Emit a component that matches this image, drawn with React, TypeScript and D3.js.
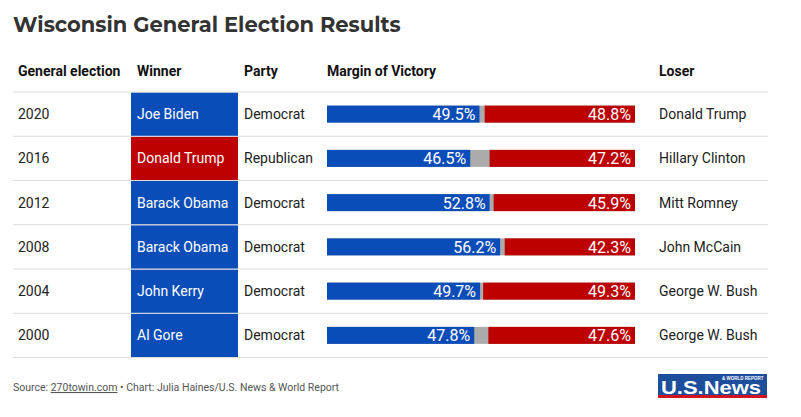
import React from "react";
import * as d3 from "d3";

const years = ["2020", "2016", "2012", "2008", "2004", "2000"];
const winners = ["Joe Biden", "Donald Trump", "Barack Obama", "Barack Obama", "John Kerry", "Al Gore"];
const parties = ["Democrat", "Republican", "Democrat", "Democrat", "Democrat", "Democrat"];
const demShare = [49.5, 46.5, 52.8, 56.2, 49.7, 47.8];
const repShare = [48.8, 47.2, 45.9, 42.3, 49.3, 47.6];
const losers = ["Donald Trump", "Hillary Clinton", "Mitt Romney", "John McCain", "George W. Bush", "George W. Bush"];
const headers = ["General election", "Winner", "Party", "Margin of Victory", "Loser"];

const BLUE = "#0b4db8";
const RED = "#bd0000";
const GRAY = "#ababab";

export default function App() {
  const W = 801, H = 417;
  const tableTop = 92, tableBottom = 357.5;
  const y = d3.scaleBand<string>().domain(years).range([tableTop, tableBottom]).padding(0);
  const x = d3.scaleLinear().domain([0, 100]).range([327, 635]);
  const colX = [18, 137, 244, 327, 659];
  const barH = 17;
  const font = "Roboto, 'Open Sans', sans-serif";

  return (
    <svg width={W} height={H} style={{ position: "absolute", left: 0, top: 0, background: "#fff" }}>
      <text x={13} y={32} fontFamily="Montserrat, 'Open Sans', sans-serif" fontWeight={700} fontSize={21} fill="#333333">
        Wisconsin General Election Results
      </text>
      {headers.map((h, i) => (
        <text key={h} x={colX[i]} y={76} fontFamily={font} fontWeight={700} fontSize={14} fill="#111">
          {h}
        </text>
      ))}
      {years.map((yr, i) => {
        const y0 = y(yr)!;
        const bh = y.bandwidth();
        const cy = y0 + bh / 2;
        const isDem = parties[i] === "Democrat";
        const d = demShare[i], r = repShare[i];
        const bx0 = x(0), bx1 = x(d), rx0 = x(100 - r), rx1 = x(100);
        return (
          <g key={yr}>
            <rect x={131} y={y0 + 0.5} width={107} height={bh - 0.5} fill={isDem ? BLUE : RED} />
            <text x={18} y={cy + 5} fontFamily={font} fontSize={14} fill="#222">{yr}</text>
            <text x={137} y={cy + 5} fontFamily={font} fontSize={14} fill="#fff">{winners[i]}</text>
            <text x={244} y={cy + 5} fontFamily={font} fontSize={14} fill="#222">{parties[i]}</text>
            <rect x={bx0} y={cy - barH / 2} width={rx1 - bx0} height={barH} fill={GRAY} />
            <rect x={bx0} y={cy - barH / 2} width={bx1 - bx0} height={barH} fill={BLUE} />
            <rect x={rx0} y={cy - barH / 2} width={rx1 - rx0} height={barH} fill={RED} />
            <text x={bx1 - 4} y={cy + 6} textAnchor="end" fontFamily={font} fontSize={16} fill="#fff">{d.toFixed(1)}%</text>
            <text x={rx1 - 4} y={cy + 6} textAnchor="end" fontFamily={font} fontSize={16} fill="#fff">{r.toFixed(1)}%</text>
            <text x={659} y={cy + 5} fontFamily={font} fontSize={14} fill="#222">{losers[i]}</text>
          </g>
        );
      })}
      {[...years.map((yr) => y(yr)!), tableBottom].map((ly, i) => (
        <line key={i} x1={13} x2={768} y1={ly} y2={ly} stroke="#dcdcdc" strokeWidth={1} />
      ))}
      <text x={13} y={391} fontFamily={font} fontSize={10.5} fill="#555">
        Source: <tspan textDecoration="underline">270towin.com</tspan> • Chart: Julia Haines/U.S. News &amp; World Report
      </text>
      <g>
        <rect x={658} y={374} width={109} height={21} fill="#1d4e9c" />
        <rect x={658} y={395} width={109} height={3} fill="#d3131d" />
        <text x={661} y={394} fontFamily="'Liberation Sans', Arial, sans-serif" fontWeight={700} fontSize={18} fill="#fff" textLength={100} lengthAdjust="spacingAndGlyphs">U.S.News</text>
        <text x={722} y={379.5} fontFamily="'Liberation Sans', Arial, sans-serif" fontWeight={700} fontSize={4.5} fill="#fff">&amp; WORLD REPORT</text>
      </g>
    </svg>
  );
}
